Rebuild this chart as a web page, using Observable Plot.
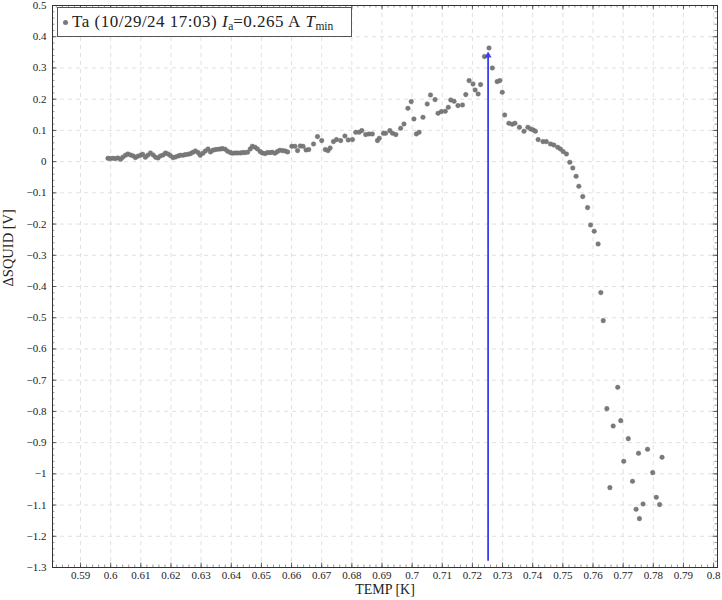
<!DOCTYPE html>
<html><head><meta charset="utf-8">
<script src="https://cdn.jsdelivr.net/npm/d3@7"></script>
<script src="https://cdn.jsdelivr.net/npm/@observablehq/plot@0.6"></script>
<style>
body{margin:0;background:#fff;}
#wrap{position:relative;width:722px;height:600px;}
#chart svg text{font-family:"Liberation Serif",serif;}
#legend{position:absolute;left:57px;top:7px;width:293px;height:28px;border:1px solid #555;background:#fff;
 font-family:"Liberation Serif",serif;font-size:17px;letter-spacing:0.5px;color:#222;display:flex;align-items:center;white-space:nowrap;box-sizing:content-box;}
#legend .mk{display:inline-block;width:5px;height:5px;border-radius:50%;background:#7a7a7a;margin:0 4px 0 5px;}
#legend .sub{font-size:11.5px;position:relative;top:4px;letter-spacing:0;}
</style></head>
<body><div id="wrap"><div id="chart"></div>
<div id="legend"><span class="mk"></span>Ta (10/29/24 17:03)&nbsp;<i>I</i><span class="sub">a</span>=0.265 A&nbsp;<i>T</i><span class="sub">min</span></div></div>
<script>
const temp = [
 .5991,.5998,.6007,.6015,.6024,.6033,.6040,.6049,.6057,.6066,.6075,.6082,.6090,.6099,.6106,.6115,.6123,.6132,.6141,.6149,
 .6157,.6165,.6174,.6182,.6190,.6198,.6207,.6215,.6224,.6231,.6240,.6248,.6257,.6265,.6273,.6281,.6290,.6297,.6306,.6314,
 .6323,.6331,.6339,.6347,.6356,.6364,.6371,.6380,.6388,.6397,.6404,.6413,.6421,.6430,.6437,.6445,.6454,.6463,.6470,.6479,
 .6487,.6496,.6503,.6512,.6520,.6529,.6536,.6545,.6553,.6561,.6570,.6579,.6587,
 .6601,.6611,.6620,.6629,.6638,.6648,.6657,.6673,.6686,.6700,.6712,.6721,.6728,.6739,.6749,.6763,.6777,.6788,
 .6802,.6813,.6824,.6833,.6846,.6857,.6868,.6885,.6891,.6905,.6912,.6926,.6935,.6946,.6962,.6973,.6986,.6997,.7006,.7014,
 .7023,.7036,.7050,.7061,.7076,.7086,.7097,.7110,.7120,.7128,.7139,.7152,.7167,.7178,.7189,.7202,.7209,.7219,
 .7227,.7240,.7255,.7266,.7282,.7291,
 .7299,.7307,.7321,.7332,.7341,.7356,.7371,.7384,.7393,.7402,.7409,.7418,.7434,.7445,.7459,.7470,.7483,.7492,.7501,.7512,
 .7523,.7533,.7544,.7553,.7566,.7582,.7592,.7604,.7617,
 .7626,.7634,.7646,.7656,.7667,.7682,.7692,.7702,.7717,.7731,.7743,.7751,.7754,.7766,.7781,.7798,.7810,.7821,.7829
];
const squid = [
 .0107,.0096,.0107,.0096,.0118,.0075,.0139,.0203,.0246,.0214,.0182,.0128,.0171,.0203,.0235,.0139,.0203,.0278,.0214,.0139,
 .0118,.0182,.0214,.0278,.0246,.0192,.0128,.0150,.0182,.0203,.0203,.0224,.0235,.0256,.0299,.0342,.0288,.0203,.0267,.0342,
 .0406,.0310,.0363,.0384,.0395,.0406,.0416,.0395,.0331,.0288,.0267,.0278,.0278,.0278,.0288,.0288,.0299,.0406,.0491,.0459,
 .0406,.0320,.0278,.0256,.0288,.0288,.0299,.0267,.0320,.0363,.0352,.0342,.0310,
 .0491,.0491,.0352,.0502,.0491,.0374,.0384,.0566,.0801,.0673,.0384,.0352,.0438,.0641,.0705,.0673,.0822,.0694,
 .0705,.0939,.0939,.0993,.0865,.0886,.0886,.0673,.0748,.0908,.0908,.0993,.0908,.0865,.1068,.1206,.1708,.1922,.1367,.0886,
 .0939,.1420,.1847,.2135,.1986,.1548,.1602,.1612,.1740,.1975,.1932,.1794,.1815,.2146,.2594,.2488,.2295,.2167,
 .2466,.3363,.3641,.3000,.2562,.2594,
 .2220,.1495,.1228,.1196,.1228,.1100,.0972,.1100,.1046,.1014,.0972,.0705,.0641,.0641,.0566,.0534,.0459,.0406,.0320,.0246,
 -.0021,-.0203,-.0470,-.0790,-.1121,-.1473,-.2029,-.2231,-.2637,
 -.4196,-.5093,-.7912,-1.0442,-.8466,-.7229,-.8296,-.9599,-.8873,-1.0239,-1.1136,-.9342,-1.1435,-1.0965,-.9214,-.9962,-1.0752,-1.0986,-.9470
];
const tmin = [0.7252];
const tminFrom = [-1.28];
const tminTo = [0.34];
const xTicks = [0.59,0.6,0.61,0.62,0.63,0.64,0.65,0.66,0.67,0.68,0.69,0.7,0.71,0.72,0.73,0.74,0.75,0.76,0.77,0.78,0.79,0.8];
const yTicks = [0.5,0.4,0.3,0.2,0.1,0,-0.1,-0.2,-0.3,-0.4,-0.5,-0.6,-0.7,-0.8,-0.9,-1,-1.1,-1.2,-1.3];
const xDomain = [0.5807, 0.8013];
const yDomain = [-1.3, 0.5];

const points = temp.map((t, i) => ({t, v: squid[i]}));
const arrow = tmin.map((t, i) => ({t, y1: tminFrom[i], y2: tminTo[i]}));
const xMinor = d3.range(0, 111).map(i => +(0.582 + i * 0.002).toFixed(3)).filter(v => v <= xDomain[1]);
const yMinor = d3.range(0, 91).map(i => +(-1.3 + i * 0.02).toFixed(2));
const fmt = d => d === 0 ? "0" : String(+d.toFixed(2)).replace("-", "\u2212");
const ink = "#333";
const gridC = "#d8d8d8";

function edgeTicks(len, w) {
  return [
    Plot.ruleX(len.x, {x: d => d, y1: () => yDomain[0], y2: () => yDomain[0], insetTop: -len.l, stroke: ink, strokeWidth: w}),
    Plot.ruleX(len.x, {x: d => d, y1: () => yDomain[1], y2: () => yDomain[1], insetBottom: -len.l, stroke: ink, strokeWidth: w}),
    Plot.ruleY(len.y, {y: d => d, x1: () => xDomain[0], x2: () => xDomain[0], insetRight: -len.l, stroke: ink, strokeWidth: w}),
    Plot.ruleY(len.y, {y: d => d, x1: () => xDomain[1], x2: () => xDomain[1], insetLeft: -len.l, stroke: ink, strokeWidth: w})
  ];
}

const chart = Plot.plot({
  width: 722, height: 600,
  marginLeft: 52, marginRight: 5, marginTop: 5, marginBottom: 33,
  style: {fontFamily: "'Liberation Serif', serif", fontSize: "11px", color: "#222", background: "#fff"},
  x: {domain: xDomain, ticks: xTicks, tickFormat: fmt, tickSize: 0, tickPadding: 4, label: null},
  y: {domain: yDomain, ticks: yTicks, tickFormat: fmt, tickSize: 0, tickPadding: 6, label: null},
  marks: [
    Plot.ruleX(xTicks, {x: d => d, stroke: gridC, strokeDasharray: "4,4", strokeWidth: 0.8}),
    Plot.ruleY(yTicks, {y: d => d, stroke: gridC, strokeDasharray: "4,4", strokeWidth: 0.8}),
    ...edgeTicks({x: xMinor, y: yMinor, l: 2.5}, 0.5),
    ...edgeTicks({x: xTicks, y: yTicks, l: 4.5}, 0.7),
    Plot.frame({stroke: ink, strokeWidth: 1}),
    Plot.dot(points, {x: "t", y: "v", r: 2.3, fill: "#7a7a7a", stroke: "#6a6a6a", strokeWidth: 0.4}),
    Plot.ruleX(arrow, {x: "t", y1: "y1", y2: "y2", stroke: "#3d3df2", strokeWidth: 1.8}),
    Plot.dot(arrow, {x: "t", y: "y2", symbol: "triangle", r: 2.6, fill: "#3d3df2"}),
    Plot.text(["TEMP [K]"], {frameAnchor: "bottom", dy: 26, fontSize: 14, fill: "#222"}),
    Plot.text(["\u0394SQUID [V]"], {frameAnchor: "left", dx: -44, rotate: -90, fontSize: 14.5, fill: "#222"})
  ]
});
document.getElementById("chart").append(chart);
</script>
</body></html>
